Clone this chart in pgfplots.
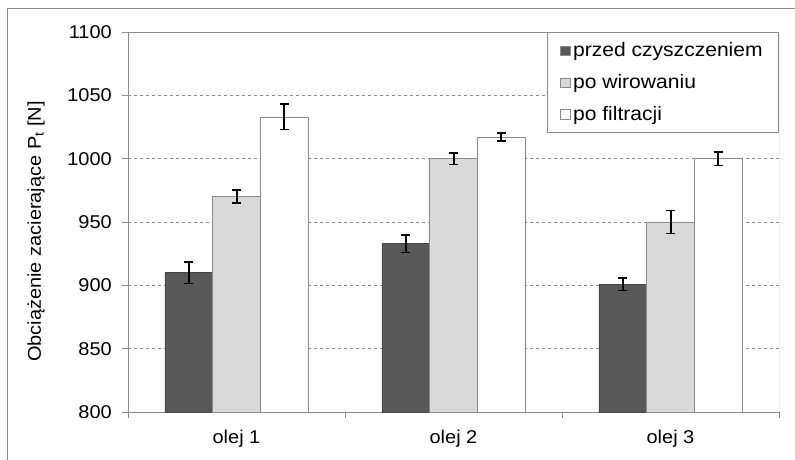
\documentclass[border=0pt]{standalone}
\usepackage{pgfplots}
\pgfplotsset{compat=1.18}
\usepackage{fontspec}
\setmainfont[FakeStretch=1.08]{Liberation Sans}
\definecolor{darkbar}{HTML}{595959}
\definecolor{lightbar}{HTML}{D9D9D9}
\definecolor{edge}{HTML}{8C8C8C}
\definecolor{axgray}{HTML}{8C8C8C}
\pgfplotsset{errbars/.style={
  error bars/y dir=both, error bars/y explicit,
  error bars/error bar style={black, line width=2pt},
  error bars/error mark options={rotate=90, mark size=4.5pt, line width=1.7pt, black}}}
\begin{document}
\fontsize{18}{21}\selectfont
\begin{tikzpicture}
\begin{axis}[
  scale only axis,
  width=651pt, height=380pt,
  ybar=0pt, bar width=47.7pt,
  xmin=-0.5, xmax=2.5,
  ymin=800, ymax=1100,
  ytick={800,850,...,1100},
  xtick={0,1,2},
  xticklabels={olej 1,olej 2,olej 3},
  minor xtick={-0.5,0.5,1.5,2.5},
  major x tick style={draw=none},
  minor x tick style={axgray, line width=0.8pt},
  minor tick length=6pt,
  y tick style={axgray, line width=0.8pt},
  major tick length=6pt,
  tick align=outside,
  axis x line*=bottom,
  axis y line*=left,
  axis line style={axgray, line width=0.8pt, -},
  ymajorgrids,
  grid style={axgray, dashed, line width=0.6pt},
  /pgf/number format/assume math mode=true,
  /pgf/number format/1000 sep={},
  tick label style={font=\fontsize{18.5}{21}\selectfont},
  yticklabel style={xshift=-4pt},
  xticklabel style={yshift=-6pt},
  ylabel={Obciążenie zacierające P\textsubscript{t} [N]},
  ylabel style={at={(axis description cs:-0.141,0.475)}, anchor=center, font=\fontsize{18.5}{21}\selectfont},
  legend style={at={(1,1)}, anchor=north east, draw=axgray, line width=0.6pt,
    font=\fontsize{19.5}{22}\selectfont, inner xsep=13pt, inner ysep=8pt,
    row sep=11pt, cells={anchor=west},
    nodes={inner xsep=3pt}},
  legend image code/.code={\draw[#1, draw=edge, line width=0.5pt] (0pt,-4.7pt) rectangle (9.5pt,4.7pt);},
]
\addplot[fill=darkbar, draw=darkbar!80!black, line width=0.5pt, errbars] coordinates {
  (0,910) +- (0,8.5)
  (1,933) +- (0,7)
  (2,901) +- (0,5)
};
\addplot[fill=lightbar, draw=edge, line width=0.5pt, errbars] coordinates {
  (0,970) +- (0,5)
  (1,1000) +- (0,4.5)
  (2,950) +- (0,9)
};
\addplot[fill=white, draw=edge, line width=0.5pt, errbars] coordinates {
  (0,1033) +- (0,10)
  (1,1017) +- (0,3)
  (2,1000) +- (0,5.5)
};
\legend{przed czyszczeniem,po wirowaniu,po filtracji}
\draw[axgray, line width=0.8pt] (rel axis cs:0,1) -- (rel axis cs:1,1) -- (rel axis cs:1,0);
\end{axis}
\draw[axgray, line width=0.8pt] (-121pt,-60pt) -- (-121pt,404pt) -- (680pt,404pt);
\pgfresetboundingbox
\path[use as bounding box] (-128pt,-48pt) rectangle (667pt,412pt);
\end{tikzpicture}
\end{document}
